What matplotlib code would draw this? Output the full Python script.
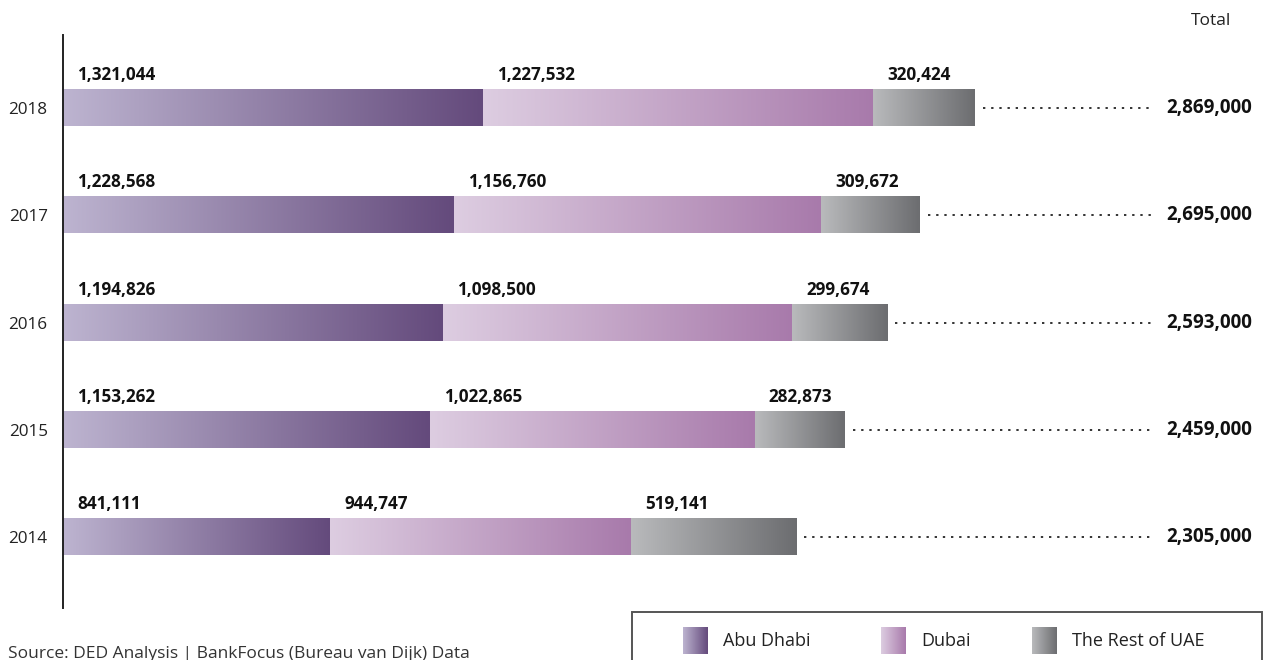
import numpy as np
import matplotlib
matplotlib.use('Agg')
import matplotlib.pyplot as plt
from matplotlib.colors import LinearSegmentedColormap
from matplotlib.patches import Rectangle
from matplotlib import transforms

years = ['2014', '2015', '2016', '2017', '2018']
abu_dhabi = [841111, 1153262, 1194826, 1228568, 1321044]
dubai = [944747, 1022865, 1098500, 1156760, 1227532]
rest_of_uae = [519141, 282873, 299674, 309672, 320424]
totals = [2305000, 2459000, 2593000, 2695000, 2869000]
legend_names = ['Abu Dhabi', 'Dubai', 'The Rest of UAE']

plt.rcParams['font.family'] = ['Open Sans', 'DejaVu Sans']

cmaps = [
    LinearSegmentedColormap.from_list('ad', ['#bdb4d0', '#644a7c']),
    LinearSegmentedColormap.from_list('db', ['#ddcde1', '#a87aab']),
    LinearSegmentedColormap.from_list('ru', ['#b9babc', '#6c6d70']),
]
grad = np.linspace(0, 1, 256).reshape(1, -1)

W, H = 1264, 660
fig = plt.figure(figsize=(W / 100, H / 100), dpi=100)
ax = fig.add_axes([63 / W, 1 - 608 / H, (1201) / W, 573 / H])

y = np.arange(len(years))
bar_h = 0.336
series = [abu_dhabi, dubai, rest_of_uae]
left = np.zeros(len(years))
for vals, cm in zip(series, cmaps):
    bars = ax.barh(y, vals, left=left, height=bar_h, color='none', linewidth=0)
    for b, v in zip(bars, vals):
        x0, y0 = b.get_x(), b.get_y()
        ax.imshow(grad, extent=(x0, x0 + b.get_width(), y0, y0 + b.get_height()),
                  aspect='auto', cmap=cm, interpolation='bicubic', zorder=2)
        ax.annotate(f'{v:,}', xy=(x0, y0 + b.get_height()), xytext=(14, 6),
                    textcoords='offset pixels', ha='left', va='bottom',
                    fontsize=12.3, fontweight='bold', color='#111111')
    left = left + np.array(vals)

xmax = 2869000 * 1201 / 912
ax.set_xlim(0, xmax)
ax.set_ylim(-0.662, 4.681)

# dotted leader lines and totals
tr = transforms.blended_transform_factory(fig.transFigure, ax.transData)
end_x = 1153 / W
for yi, end, tot in zip(y, left, totals):
    start = ax.transData.transform((end, yi))[0] + 8
    ax.plot([start / W, end_x], [yi, yi], transform=tr, color='#333333',
            linestyle=(0, (1.2, 3.0)), linewidth=1.4, clip_on=False)
    ax.text(1252 / W, yi, f'{tot:,}', transform=tr, ha='right', va='center',
            fontsize=13.5, fontweight='bold', color='#111111')

fig.text(1211 / W, 1 - 21 / H, 'Total', ha='center', va='center', fontsize=12.5,
         color='#222222')

ax.set_yticks(y)
ax.set_yticklabels(years, fontsize=12.3, color='#222222')
ax.tick_params(axis='y', length=0, pad=11)
ax.set_xticks([])
for s in ['top', 'right', 'bottom']:
    ax.spines[s].set_visible(False)
ax.spines['left'].set_color('#222222')
ax.spines['left'].set_linewidth(1.4)

# legend box
fig.patches.append(Rectangle((632 / W, -0.05), (1262 - 632) / W, 0.05 + 1 - 612 / H,
                             transform=fig.transFigure, fill=False,
                             edgecolor='#555555', linewidth=1.4))
sw_x = [683, 881, 1032]
for sx, cm, name in zip(sw_x, cmaps, legend_names):
    sax = fig.add_axes([sx / W, 1 - 654 / H, 25 / W, 27 / H])
    sax.imshow(grad, aspect='auto', cmap=cm, interpolation='bicubic')
    sax.axis('off')
    fig.text((sx + 40) / W, 1 - 641 / H, name, ha='left', va='center',
             fontsize=13, color='#222222')

fig.text(8 / W, 1 - 646 / H, 'Source: DED Analysis | BankFocus (Bureau van Dijk) Data',
         ha='left', va='top', fontsize=12.5, color='#333333')

fig.savefig('out.png', dpi=100)
